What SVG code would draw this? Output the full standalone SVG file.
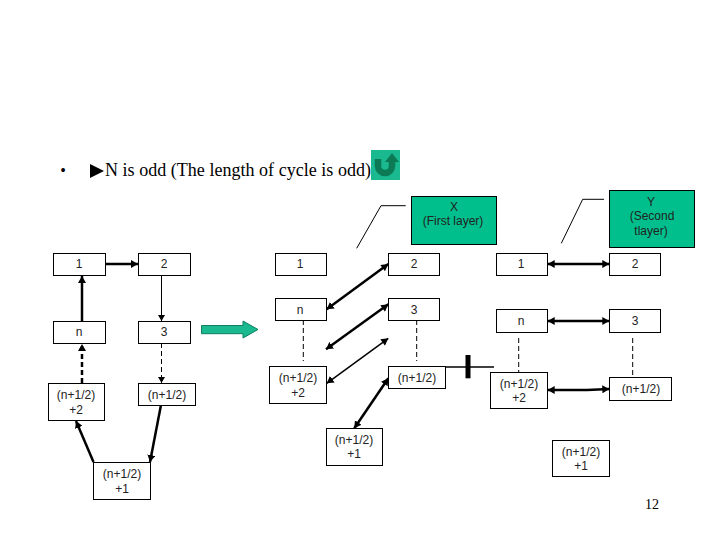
<svg xmlns="http://www.w3.org/2000/svg" width="720" height="540" viewBox="0 0 720 540">
<style>
text{font-family:"Liberation Sans",Arial,sans-serif;font-size:12px;fill:#222;text-anchor:middle}
.s{font-family:"Liberation Serif","Times New Roman",serif;fill:#000}
.b{fill:#fff;stroke:#000;stroke-width:1}
.g{fill:#00bf8c;stroke:#000;stroke-width:1}
.l{fill:none;stroke:#000;stroke-width:1}
.d{fill:none;stroke:#000;stroke-width:1;stroke-dasharray:5 3}
.dt{fill:none;stroke:#000;stroke-width:2.500;stroke-dasharray:5 3;marker-end:url(#a)}
.t1{fill:none;stroke:#000;stroke-width:1;marker-end:url(#a1)}
.t2{fill:none;stroke:#000;stroke-width:2.500;marker-end:url(#a)}
.t3{fill:none;stroke:#000;stroke-width:2.500;marker-start:url(#as);marker-end:url(#a)}
.t4{fill:none;stroke:#000;stroke-width:1.500;marker-start:url(#as);marker-end:url(#a)}
</style>
<defs>
<marker id="a" markerUnits="userSpaceOnUse" markerWidth="8" markerHeight="8" refX="7" refY="4" orient="auto"><path d="M0 0L7 4L0 8z"/></marker>
<marker id="as" markerUnits="userSpaceOnUse" markerWidth="8" markerHeight="8" refX="0" refY="4" orient="auto"><path d="M7 0L0 4L7 8z"/></marker>
<marker id="a1" markerUnits="userSpaceOnUse" markerWidth="7" markerHeight="7" refX="6" refY="3.500" orient="auto"><path d="M0 0L6 3.500L0 7z"/></marker>
</defs>
<g id="heading">
<text class="s" x="63" y="176" style="font-size:16px">•</text>
<path d="M90 164L104 171L90 178z" fill="#000"/>
<text class="s" x="105" y="176" style="font-size:18px;text-anchor:start" textLength="266">N is odd (The length of cycle is odd)</text>
</g>
<g id="return-button">
<rect x="371" y="150" width="29" height="30" fill="#1ab98f"/>
<path d="M378 159V166a7 7 0 0 0 14 0V161" fill="none" stroke="#0b7a55" stroke-width="6.500"/>
<path d="M385 162L392 153L399 162z" fill="#0b7a55"/>
</g>
<g id="connectors">
<path class="t2" d="M104 264H138"/>
<path class="t1" d="M161.500 275V321"/>
<path class="d" d="M161.500 343V378"/>
<path d="M161.500 378V383" class="t1"/>
<path class="t2" d="M82 321V276"/>
<path class="dt" d="M82 383V344"/>
<path class="t2" d="M161 405L150 462"/>
<path class="t2" d="M93.500 462L76 421"/>
<path class="t3" d="M388.300 264L326.700 309.300"/>
<path class="t3" d="M388.300 304.300L326 349.300"/>
<path class="t4" d="M388.300 338.300L326.700 383.300"/>
<path class="t3" d="M388.300 378.300L354.300 428.300"/>
<path class="d" d="M303.300 320V361"/>
<path class="d" d="M416.700 320V361"/>
<path d="M441.700 367H494" fill="none" stroke="#000" stroke-width="1.500"/>
<path d="M468 355V378.300" fill="none" stroke="#000" stroke-width="5"/>
<path class="t3" d="M547.700 264H609.300"/>
<path class="t3" d="M547.700 321H609.300"/>
<path class="t3" d="M547.700 390H587L609.300 389"/>
<path class="d" d="M518.700 338V372"/>
<path class="d" d="M632.700 338V377"/>
<path class="l" d="M405.700 205.700H381L356.700 248.300"/>
<path class="l" d="M604 199.300H582.700L561.300 243.300"/>
</g>
<g id="big-arrow"><path d="M201.500 325.500H243V321L258 329.500L243 338V333.700H201.500z" fill="#1ab98f" stroke="#0f7f60" stroke-width="1"/></g>
<g id="l1"><rect class="b" x="53.500" y="253.500" width="52" height="22"/><text x="79" y="268">1</text></g>
<g id="l2"><rect class="b" x="138.500" y="253.500" width="52" height="22"/><text x="164" y="268">2</text></g>
<g id="ln"><rect class="b" x="53.500" y="321.500" width="52" height="22"/><text x="79" y="336">n</text></g>
<g id="l3"><rect class="b" x="138.500" y="321.500" width="52" height="22"/><text x="164" y="336">3</text></g>
<g id="lh2"><rect class="b" x="48.500" y="383.500" width="56" height="37"/><text x="76" y="399">(n+1/2)</text><text x="76" y="414">+2</text></g>
<g id="lh"><rect class="b" x="138.500" y="383.500" width="57" height="22"/><text x="167" y="399">(n+1/2)</text></g>
<g id="lh1"><rect class="b" x="93.500" y="462.500" width="57" height="37"/><text x="122" y="478">(n+1/2)</text><text x="122" y="493">+1</text></g>
<g id="x"><rect class="g" x="411.500" y="196.500" width="85" height="48"/><text x="454" y="211">X</text><text x="453" y="225">(First layer)</text></g>
<g id="m1"><rect class="b" x="275.500" y="253.500" width="51" height="22"/><text x="300" y="268">1</text></g>
<g id="m2"><rect class="b" x="388.500" y="253.500" width="51" height="22"/><text x="414" y="268">2</text></g>
<g id="mn"><rect class="b" x="275.500" y="298.500" width="51" height="22"/><text x="300" y="314">n</text></g>
<g id="m3"><rect class="b" x="388.500" y="298.500" width="51" height="22"/><text x="414" y="314">3</text></g>
<g id="mh2"><rect class="b" x="269.500" y="366.500" width="57" height="37"/><text x="298" y="382">(n+1/2)</text><text x="298" y="397">+2</text></g>
<g id="mh"><rect class="b" x="388.500" y="366.500" width="57" height="22"/><text x="417" y="382">(n+1/2)</text></g>
<g id="mh1"><rect class="b" x="326.500" y="428.500" width="56" height="37"/><text x="354" y="444">(n+1/2)</text><text x="354" y="458">+1</text></g>
<g id="y"><rect class="g" x="609.500" y="190.500" width="85" height="57"/><text x="651" y="206">Y</text><text x="652" y="220">(Second</text><text x="651" y="235">tlayer)</text></g>
<g id="r1"><rect class="b" x="496.500" y="253.500" width="51" height="22"/><text x="521" y="268">1</text></g>
<g id="r2"><rect class="b" x="609.500" y="253.500" width="51" height="22"/><text x="635" y="268">2</text></g>
<g id="rn"><rect class="b" x="496.500" y="309.500" width="51" height="23"/><text x="521" y="325">n</text></g>
<g id="r3"><rect class="b" x="609.500" y="309.500" width="51" height="23"/><text x="635" y="325">3</text></g>
<g id="rh2"><rect class="b" x="490.500" y="372.500" width="57" height="36"/><text x="519" y="388">(n+1/2)</text><text x="519" y="402">+2</text></g>
<g id="rh"><rect class="b" x="609.500" y="377.500" width="62" height="23"/><text x="641" y="393">(n+1/2)</text></g>
<g id="rh1"><rect class="b" x="552.500" y="440.500" width="57" height="36"/><text x="581" y="456">(n+1/2)</text><text x="581" y="470">+1</text></g>
<text class="s" x="652" y="509" style="font-size:14px">12</text>
</svg>
